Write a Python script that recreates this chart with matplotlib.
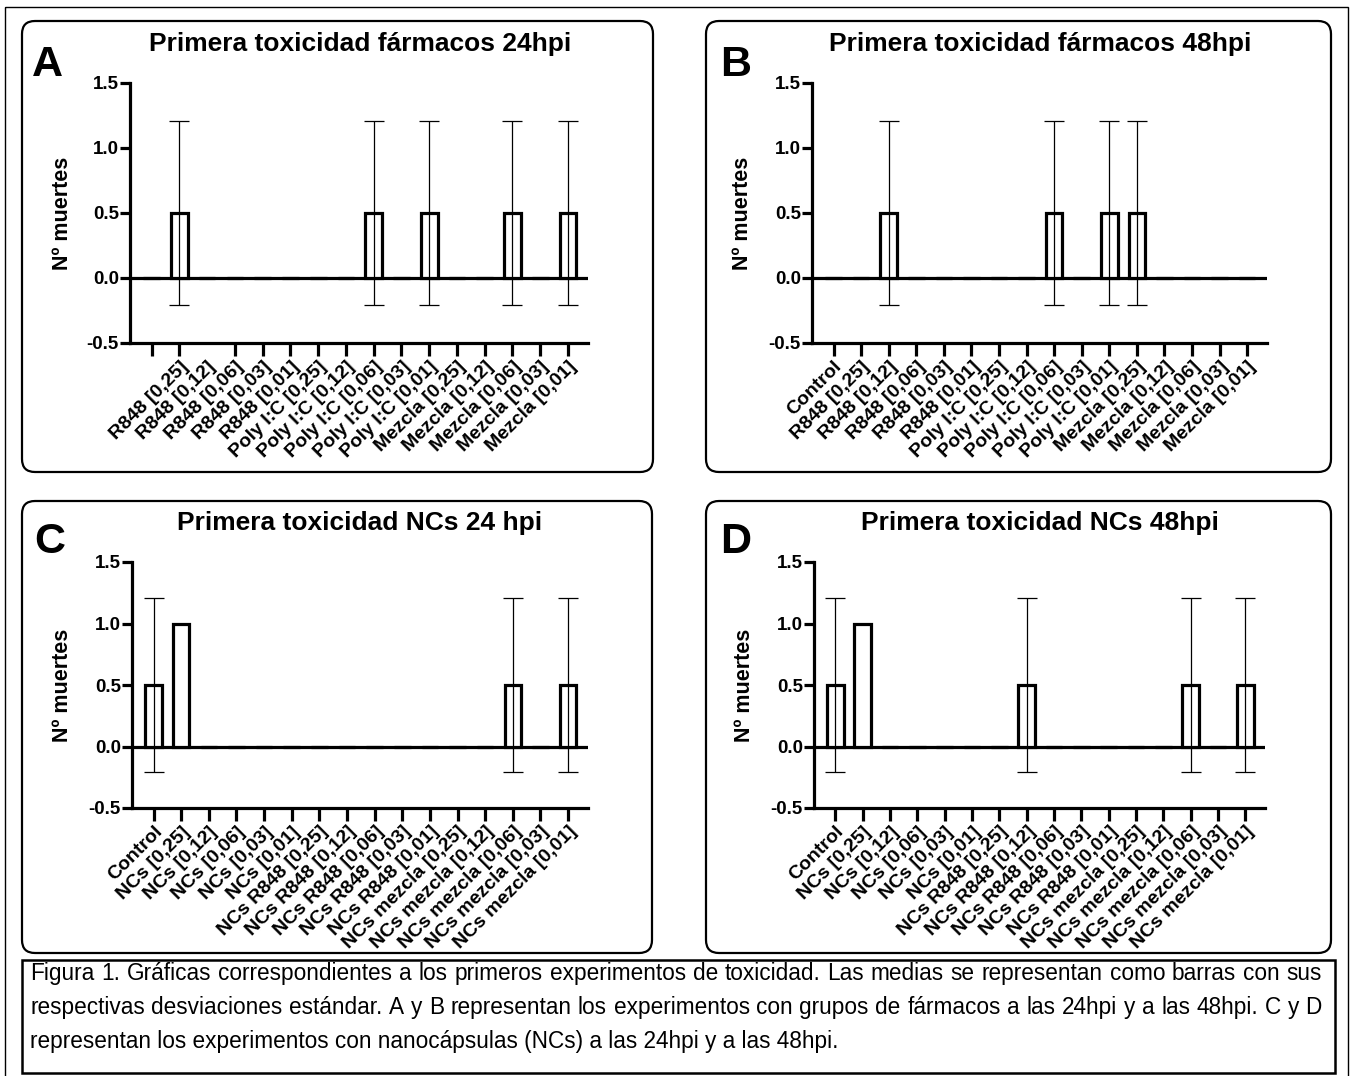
import matplotlib
matplotlib.use("Agg")
import matplotlib.pyplot as plt
from matplotlib.patches import FancyBboxPatch, Rectangle
import numpy as np

plt.rcParams['font.family'] = ['Liberation Sans', 'DejaVu Sans']

# ---------------- data ----------------
conc = ["[0,25]", "[0,12]", "[0,06]", "[0,03]", "[0,01]"]
labels_farmacos = (["Control"] + ["R848 " + c for c in conc]
                   + ["Poly I:C " + c for c in conc] + ["Mezcla " + c for c in conc])
labels_farmacos_A = [""] + labels_farmacos[1:]          # panel A: Control label not shown
labels_ncs = (["Control"] + ["NCs " + c for c in conc]
              + ["NCs R848 " + c for c in conc] + ["NCs mezcla " + c for c in conc])

values_A = [0, 0.5, 0, 0, 0, 0, 0, 0, 0.5, 0, 0.5, 0, 0, 0.5, 0, 0.5]
sd_A     = [0, 0.707, 0, 0, 0, 0, 0, 0, 0.707, 0, 0.707, 0, 0, 0.707, 0, 0.707]
values_B = [0, 0, 0.5, 0, 0, 0, 0, 0, 0.5, 0, 0.5, 0.5, 0, 0, 0, 0]
sd_B     = [0, 0, 0.707, 0, 0, 0, 0, 0, 0.707, 0, 0.707, 0.707, 0, 0, 0, 0]
values_C = [0.5, 1.0, 0, 0, 0, 0, 0, 0, 0, 0, 0, 0, 0, 0.5, 0, 0.5]
sd_C     = [0.707, 0, 0, 0, 0, 0, 0, 0, 0, 0, 0, 0, 0, 0.707, 0, 0.707]
values_D = [0.5, 1.0, 0, 0, 0, 0, 0, 0.5, 0, 0, 0, 0, 0, 0.5, 0, 0.5]
sd_D     = [0.707, 0, 0, 0, 0, 0, 0, 0.707, 0, 0, 0, 0, 0, 0.707, 0, 0.707]

titles = ["Primera toxicidad fármacos 24hpi", "Primera toxicidad fármacos 48hpi",
          "Primera toxicidad NCs 24 hpi", "Primera toxicidad NCs 48hpi"]
letters = ["A", "B", "C", "D"]
ylabel = "Nº muertes"
yticks = [-0.5, 0.0, 0.5, 1.0, 1.5]
ytick_labels = ["-0.5", "0.0", "0.5", "1.0", "1.5"]

caption_lines = [
    "Figura 1. Gráficas correspondientes a los primeros experimentos de toxicidad. Las medias se representan como barras con sus",
    "respectivas desviaciones estándar. A y B representan los experimentos con grupos de fármacos a las 24hpi y a las 48hpi. C y D",
    "representan los experimentos con nanocápsulas (NCs) a las 24hpi y a las 48hpi.",
]

# ---------------- figure ----------------
W, H = 1351, 1076
fig = plt.figure(figsize=(W / 100, H / 100), dpi=100)
fig.patch.set_facecolor("white")

bg = fig.add_axes([0, 0, 1, 1], zorder=-10)
bg.set_xlim(0, W)
bg.set_ylim(H, 0)
bg.axis("off")

# outer border
bg.add_patch(Rectangle((5, 7), 1343, 1080, fill=False, lw=1.0, ec="black"))

# panel boxes (x0, y0, x1, y1) in pixels
boxes = [(22, 21, 653, 472), (706, 21, 1331, 472), (22, 501, 652, 953), (706, 501, 1331, 953)]
for (x0, y0, x1, y1) in boxes:
    bg.add_patch(FancyBboxPatch((x0, y0), x1 - x0, y1 - y0,
                                boxstyle="round,pad=0,rounding_size=13",
                                fill=False, lw=1.6, ec="black"))

# caption box
bg.add_patch(Rectangle((22, 960), 1313, 113, fill=False, lw=1.8, ec="black"))

# axes positions in pixels (left, right, top, bottom)
axes_px = [(130, 588, 83, 343), (812, 1267, 83, 343), (132, 588, 562, 808), (814, 1265, 562, 808)]
all_values = [values_A, values_B, values_C, values_D]
all_sd = [sd_A, sd_B, sd_C, sd_D]
all_labels = [labels_farmacos_A, labels_farmacos, labels_ncs, labels_ncs]

letter_pos = [(32, 76), (720, 76), (34, 553), (720, 553)]
title_pos = [(360, 44), (1040, 44), (360, 523), (1040, 523)]
ylabel_pos = [(62, 213), (742, 213), (62, 685), (744, 685)]

for i in range(4):
    l, r, t, b = axes_px[i]
    ax = fig.add_axes([l / W, 1 - b / H, (r - l) / W, (b - t) / H])
    vals = np.array(all_values[i], dtype=float)
    sds = np.array(all_sd[i], dtype=float)
    x = np.arange(len(vals))
    ax.axhline(0, color="black", lw=2.3, zorder=2)
    ax.bar(x, vals, width=0.6, color="white", edgecolor="black", lw=2.3, zorder=3)
    m = sds > 0
    ax.errorbar(x[m], vals[m], yerr=sds[m], fmt="none", ecolor="black",
                elinewidth=0.9, capsize=7, capthick=0.9, zorder=4)
    ax.set_xlim(-0.78, len(vals) - 1 + 0.72)
    ax.set_ylim(-0.5, 1.5)
    ax.set_yticks(yticks)
    ax.set_yticklabels(ytick_labels, fontsize=13.5, fontweight="bold")
    ax.set_xticks(x)
    ax.set_xticklabels(all_labels[i], fontsize=14, fontweight="bold",
                       rotation=45, ha="right", va="top", rotation_mode="anchor")
    for s in ["top", "right"]:
        ax.spines[s].set_visible(False)
    for s in ["left", "bottom"]:
        ax.spines[s].set_linewidth(2.3)
    ax.tick_params(axis="y", length=7, width=2.3, pad=1)
    ax.tick_params(axis="x", length=9, width=2.3, pad=2)
    ax.patch.set_alpha(0)
    if i == 0:
        ax.xaxis.get_major_ticks()[2].tick1line.set_visible(False)

    bg.text(letter_pos[i][0], letter_pos[i][1], letters[i], fontsize=31,
            fontweight="bold", ha="left", va="baseline")
    bg.text(title_pos[i][0], title_pos[i][1], titles[i], fontsize=19,
            fontweight="bold", ha="center", va="center")
    bg.text(ylabel_pos[i][0], ylabel_pos[i][1], ylabel, fontsize=15.5,
            fontweight="bold", ha="center", va="center", rotation=90)

# caption with justification for the first two lines
renderer = fig.canvas.get_renderer()
cap_fs = 16.3
x_left, x_right = 30, 1322
line_y = [980, 1014, 1048]   # baselines
for li, line in enumerate(caption_lines):
    if li < 2:
        words = line.split(" ")
        objs = [bg.text(0, line_y[li], w, fontsize=cap_fs, ha="left", va="baseline") for w in words]
        widths = [o.get_window_extent(renderer=renderer).width for o in objs]
        gap = (x_right - x_left - sum(widths)) / (len(words) - 1)
        xx = x_left
        for o, wdt in zip(objs, widths):
            o.set_x(xx)
            xx += wdt + gap
    else:
        bg.text(x_left, line_y[li], line, fontsize=cap_fs, ha="left", va="baseline")

fig.savefig("out.png", dpi=100, facecolor="white")
